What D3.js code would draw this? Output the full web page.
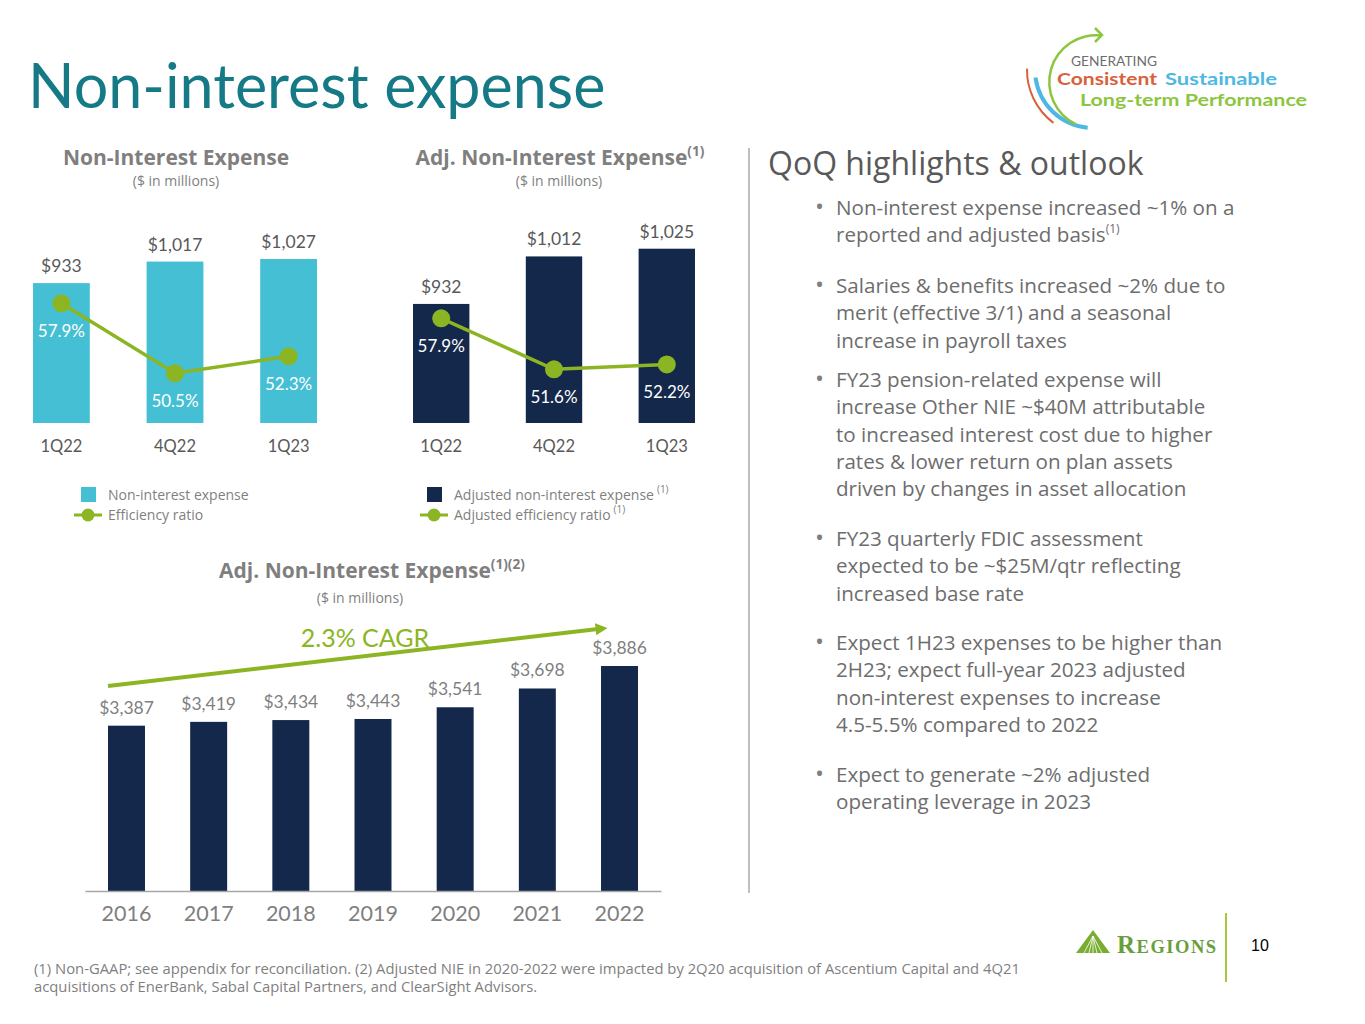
<!DOCTYPE html>
<html>
<head>
<meta charset="utf-8">
<script src="https://cdn.jsdelivr.net/npm/d3@7"></script>
<style>
  body { margin: 0; background: #fff; }
  svg { font-family: 'Open Sans', Lato, sans-serif; }
  .num { font-family: Lato, 'Open Sans', sans-serif; }
</style>
</head>
<body>
<svg id="slide" width="1365" height="1024"></svg>
<script>
// data
const quarters = ['1Q22', '4Q22', '1Q23'];
const nieValues = [933, 1017, 1027];
const efficiencyRatio = [57.9, 50.5, 52.3];
const adjNieValues = [932, 1012, 1025];
const adjEfficiencyRatio = [57.9, 51.6, 52.2];

const years = ['2016', '2017', '2018', '2019', '2020', '2021', '2022'];
const annualAdjNie = [3387, 3419, 3434, 3443, 3541, 3698, 3886];
const cagrLabel = '2.3% CAGR';

const bullets = [
  ['Non-interest expense increased ~1% on a', 'reported and adjusted basis|(1)'],
  ['Salaries & benefits increased ~2% due to', 'merit (effective 3/1) and a seasonal', 'increase in payroll taxes'],
  ['FY23 pension-related expense will', 'increase Other NIE ~$40M attributable', 'to increased interest cost due to higher',
   'rates & lower return on plan assets', 'driven by changes in asset allocation'],
  ['FY23 quarterly FDIC assessment', 'expected to be ~$25M/qtr reflecting', 'increased base rate'],
  ['Expect 1H23 expenses to be higher than', '2H23; expect full-year 2023 adjusted', 'non-interest expenses to increase',
   '4.5-5.5% compared to 2022'],
  ['Expect to generate ~2% adjusted', 'operating leverage in 2023']
];

const GREY = '#7f7f7f', DARK = '#595959', GREEN = '#8cb523', NAVY = '#14284b', CYAN = '#45bfd3';
const fmtMoney = d3.format('$,');
const fmtPct = v => d3.format('.1f')(v) + '%';

const svg = d3.select('#slide');
svg.append('rect').attr('width', 1365).attr('height', 1024).attr('fill', '#fff');

// slide title
svg.append('text').attr('class', 'num').attr('x', 28).attr('y', 108)
  .attr('font-size', 61).attr('fill', '#157a86')
  .text('Non-interest expense');

function titleWithSup(g, x, y, main, sup, size) {
  const t = g.append('text').attr('x', x).attr('y', y).attr('text-anchor', 'middle')
    .attr('font-size', size).attr('font-weight', 'bold').attr('fill', GREY);
  t.append('tspan').text(main);
  if (sup) t.append('tspan').attr('dy', -9).attr('font-size', size * 0.65).text(sup);
  return t;
}

// quarterly bar + line chart
function quarterChart(opt) {
  const g = svg.append('g');
  const x = d3.scaleBand().domain(quarters).range(opt.xRange).paddingInner(0.5).paddingOuter(0);
  const y = d3.scaleLinear().domain(opt.yDomain).range([423, opt.yTop]);
  const yr = d3.scaleLinear().domain([50, 58]).range(opt.ratioRange);

  titleWithSup(g, opt.titleX, 165, opt.title, opt.titleSup, 21);
  g.append('text').attr('x', opt.subX).attr('y', 186).attr('text-anchor', 'middle')
    .attr('font-size', 14).attr('fill', GREY).text('($ in millions)');

  g.selectAll('rect.bar').data(opt.values).join('rect').attr('class', 'bar')
    .attr('x', (d, i) => x(quarters[i])).attr('width', x.bandwidth())
    .attr('y', d => y(d)).attr('height', d => 423 - y(d)).attr('fill', opt.color);

  g.selectAll('text.val').data(opt.values).join('text').attr('class', 'val num')
    .attr('x', (d, i) => x(quarters[i]) + x.bandwidth() / 2).attr('y', d => y(d) - 11)
    .attr('text-anchor', 'middle').attr('font-size', 17.5).attr('fill', DARK)
    .text(fmtMoney);

  const ax = g.append('g').attr('transform', 'translate(0,437)')
    .call(d3.axisBottom(x).tickSize(0).tickPadding(0));
  ax.select('.domain').remove();
  ax.selectAll('text').attr('font-size', 16.5).attr('fill', DARK).attr('font-family', 'Lato').attr('dy', '0.9em');

  const cx = (d, i) => x(quarters[i]) + x.bandwidth() / 2;
  g.append('path').datum(opt.ratios)
    .attr('d', d3.line().x(cx).y(d => yr(d)))
    .attr('fill', 'none').attr('stroke', GREEN).attr('stroke-width', 3.5);
  g.selectAll('circle.pt').data(opt.ratios).join('circle').attr('class', 'pt')
    .attr('cx', cx).attr('cy', d => yr(d)).attr('r', 9).attr('fill', GREEN);
  g.selectAll('text.pct').data(opt.ratios).join('text').attr('class', 'pct num')
    .attr('x', cx).attr('y', d => yr(d) + 34).attr('text-anchor', 'middle')
    .attr('font-size', 17).attr('fill', '#fff').text(fmtPct);

  // legend
  const lx = opt.legendX;
  g.append('rect').attr('x', lx).attr('y', 487).attr('width', 15).attr('height', 15).attr('fill', opt.color);
  const t1 = g.append('text').attr('x', lx + 27).attr('y', 500).attr('font-size', 14).attr('fill', GREY);
  t1.append('tspan').text(opt.legend1);
  if (opt.legendSup) t1.append('tspan').attr('dy', -7).attr('dx', 3).attr('font-size', 10).text('(1)');
  g.append('line').attr('x1', lx - 7).attr('x2', lx + 21).attr('y1', 515).attr('y2', 515)
    .attr('stroke', GREEN).attr('stroke-width', 3);
  g.append('circle').attr('cx', lx + 7).attr('cy', 515).attr('r', 6.5).attr('fill', GREEN);
  const t2 = g.append('text').attr('x', lx + 27).attr('y', 520).attr('font-size', 14).attr('fill', GREY);
  t2.append('tspan').text(opt.legend2);
  if (opt.legendSup) t2.append('tspan').attr('dy', -7).attr('dx', 3).attr('font-size', 10).text('(1)');
}

quarterChart({
  xRange: [33, 317], yDomain: [388, 1027], yTop: 259, ratioRange: [378, 302.4],
  values: nieValues, ratios: efficiencyRatio, color: CYAN,
  title: 'Non-Interest Expense', titleX: 176, subX: 176,
  legendX: 81, legend1: 'Non-interest expense', legend2: 'Efficiency ratio', legendSup: false
});
quarterChart({
  xRange: [413, 695], yDomain: [731.5, 1025], yTop: 248.7, ratioRange: [382.3, 317.5],
  values: adjNieValues, ratios: adjEfficiencyRatio, color: NAVY,
  title: 'Adj. Non-Interest Expense', titleSup: '(1)', titleX: 560, subX: 559,
  legendX: 427, legend1: 'Adjusted non-interest expense', legend2: 'Adjusted efficiency ratio', legendSup: true
});

// annual chart
(function () {
  const g = svg.append('g');
  const x = d3.scaleBand().domain(years).range([85, 661]).paddingInner(0.55).paddingOuter(0.28);
  const y = d3.scaleLinear().domain([2005, 3886]).range([891, 666]);

  titleWithSup(g, 372, 578, 'Adj. Non-Interest Expense', '(1)(2)', 21);
  g.append('text').attr('x', 360).attr('y', 603).attr('text-anchor', 'middle')
    .attr('font-size', 14).attr('fill', GREY).text('($ in millions)');

  g.selectAll('rect').data(annualAdjNie).join('rect')
    .attr('x', (d, i) => x(years[i])).attr('width', x.bandwidth())
    .attr('y', d => y(d)).attr('height', d => 891 - y(d)).attr('fill', NAVY);

  g.selectAll('text.val').data(annualAdjNie).join('text').attr('class', 'val num')
    .attr('x', (d, i) => x(years[i]) + x.bandwidth() / 2).attr('y', d => y(d) - 12)
    .attr('text-anchor', 'middle').attr('font-size', 17.5).attr('fill', GREY).text(fmtMoney);

  const ax = g.append('g').attr('transform', 'translate(0,891)')
    .call(d3.axisBottom(x).tickSize(0).tickPadding(12));
  ax.select('.domain').attr('stroke', '#a6a6a6').attr('stroke-width', 1.5);
  ax.selectAll('text').attr('font-size', 21.5).attr('fill', GREY).attr('font-family', 'Lato').attr('dy', '0.85em');

  // CAGR arrow
  const defs = svg.append('defs');
  defs.append('marker').attr('id', 'arrow').attr('viewBox', '0 0 10 10').attr('refX', 2).attr('refY', 5)
    .attr('markerWidth', 3).attr('markerHeight', 3).attr('orient', 'auto')
    .append('path').attr('d', 'M0,0 L10,5 L0,10 z').attr('fill', GREEN);
  g.append('line').attr('x1', 108).attr('y1', 686).attr('x2', 598).attr('y2', 629)
    .attr('stroke', GREEN).attr('stroke-width', 4).attr('marker-end', 'url(#arrow)');
  g.append('text').attr('class', 'num').attr('x', 365).attr('y', 647).attr('text-anchor', 'middle')
    .attr('font-size', 25).attr('fill', GREEN).text(cagrLabel);
})();

// divider
svg.append('line').attr('x1', 749).attr('x2', 749).attr('y1', 148).attr('y2', 893)
  .attr('stroke', '#bfbfbf').attr('stroke-width', 2);

// highlights
svg.append('text').attr('x', 768).attr('y', 175).attr('font-size', 32).attr('fill', DARK)
  .text('QoQ highlights & outlook');

const bulletTop = [215, 293, 387, 546, 650, 782];
bullets.forEach((lines, bi) => {
  svg.append('text').attr('x', 815).attr('y', bulletTop[bi]).attr('font-size', 24).attr('fill', GREY).text('•');
  lines.forEach((ln, li) => {
    const t = svg.append('text').attr('x', 836).attr('y', bulletTop[bi] + li * 27.3)
      .attr('font-size', 20.6).attr('fill', '#6d6d6d');
    const parts = ln.split('|');
    t.append('tspan').text(parts[0]);
    if (parts[1]) t.append('tspan').attr('dy', -9).attr('font-size', 12).text(parts[1]);
  });
});

// top-right badge
(function () {
  const g = svg.append('g');
  g.append('path').attr('transform', 'translate(1093,70)')
    .attr('d', d3.arc()({ innerRadius: 65, outerRadius: 67, startAngle: -2.5, endAngle: -1.55 }))
    .attr('fill', '#d8613c');
  g.append('path').attr('transform', 'translate(1093,70)')
    .attr('d', d3.arc()({ innerRadius: 56, outerRadius: 60, startAngle: -3.05, endAngle: -1.7 }))
    .attr('fill', '#4db8e3');
  g.append('path').attr('transform', 'translate(1096,82)')
    .attr('d', d3.arc()({ innerRadius: 45.5, outerRadius: 48, startAngle: -2.7, endAngle: 0.12 }))
    .attr('fill', '#8cc63f');
  g.append('path').attr('d', 'M1095,28 L1102,35 L1095,42').attr('fill', 'none')
    .attr('stroke', '#8cc63f').attr('stroke-width', 2.5);
  const word = (txt, x, y, size, w, color, bold) => g.append('text').attr('class', 'num')
    .attr('x', x).attr('y', y).attr('font-size', size).attr('fill', color)
    .attr('font-weight', bold ? 'bold' : 'normal')
    .attr('textLength', w).attr('lengthAdjust', 'spacingAndGlyphs').text(txt);
  word('GENERATING', 1071, 65.5, 13.5, 86, '#6d6d6d', false);
  word('Consistent', 1057, 85, 17, 100, '#d8613c', true);
  word('Sustainable', 1165, 85, 17, 112, '#4db8e3', true);
  word('Long-term Performance', 1080, 106, 17, 227, '#8cc63f', true);
})();

// Regions logo and page number
(function () {
  const g = svg.append('g');
  g.append('path').attr('d', 'M1076,953 L1093,930 L1110,953 Z').attr('fill', '#78ad32');
  [-9, -4, 0, 4, 9].forEach(d => g.append('line')
    .attr('x1', 1093).attr('y1', 936).attr('x2', 1093 + d).attr('y2', 953)
    .attr('stroke', '#fff').attr('stroke-width', 0.8));
  const t = g.append('text').attr('x', 1117).attr('y', 953)
    .attr('font-family', "'Liberation Serif', 'DejaVu Serif', serif").attr('fill', '#6a9e3b')
    .attr('font-weight', 'bold').attr('letter-spacing', 1.5);
  t.append('tspan').attr('font-size', 25).text('R');
  t.append('tspan').attr('font-size', 18.5).text('EGIONS');
  g.append('line').attr('x1', 1226).attr('x2', 1226).attr('y1', 913).attr('y2', 982)
    .attr('stroke', '#a5c83b').attr('stroke-width', 2);
  g.append('text').attr('x', 1251).attr('y', 951).attr('font-family', "'Liberation Sans', Arial, sans-serif")
    .attr('font-size', 16).attr('fill', '#000').text('10');
})();

// footnote
svg.append('text').attr('x', 34).attr('y', 974).attr('font-size', 14.8).attr('fill', GREY)
  .text('(1) Non-GAAP; see appendix for reconciliation. (2) Adjusted NIE in 2020-2022 were impacted by 2Q20 acquisition of Ascentium Capital and 4Q21');
svg.append('text').attr('x', 34).attr('y', 992).attr('font-size', 14.8).attr('fill', GREY)
  .text('acquisitions of EnerBank, Sabal Capital Partners, and ClearSight Advisors.');
</script>
</body>
</html>
